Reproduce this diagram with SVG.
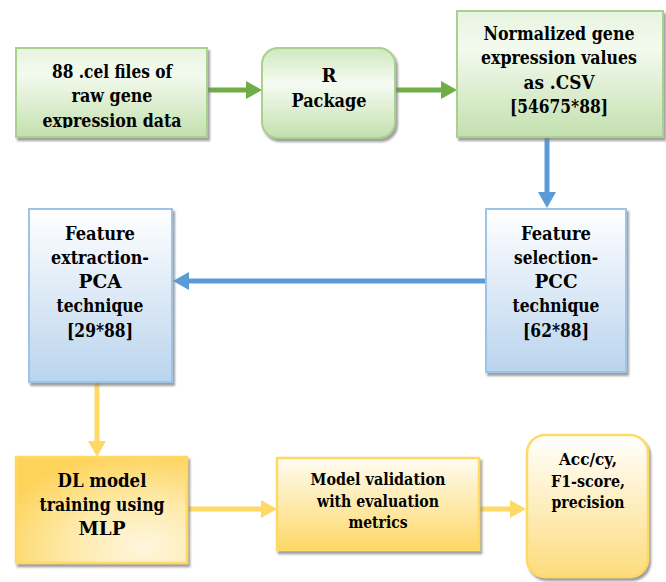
<svg xmlns="http://www.w3.org/2000/svg" width="666" height="582" viewBox="0 0 666 582">
<defs>
<style>
text{font-family:'DejaVu Serif','Liberation Serif',serif;font-weight:bold;fill:#000;text-anchor:middle}
.t21{font-size:19px}
.t19{font-size:17px}
.g{stroke:#a9d18e;stroke-width:2}
.b{stroke:#9dc3e6;stroke-width:2}
.y{stroke:#ffd966;stroke-width:2.5}
.ag{stroke:#70ad47;stroke-width:5;fill:none;marker-end:url(#mg)}
.ab{stroke:#5b9bd5;stroke-width:5;fill:none;marker-end:url(#mb)}
.ay{stroke:#ffd966;stroke-width:5;fill:none;marker-end:url(#my)}
</style>
<filter id="sh" x="-10%" y="-10%" width="125%" height="125%">
<feDropShadow dx="2" dy="3" stdDeviation="0.8" flood-color="#7f7f7f" flood-opacity="0.75"/>
</filter>
<linearGradient id="gG" x1="0" y1="0" x2="0" y2="1">
<stop offset="0" stop-color="#e7f4df"/><stop offset="0.3" stop-color="#f3faee"/><stop offset="1" stop-color="#c3e0ae"/>
</linearGradient>
<linearGradient id="gR" x1="0" y1="0" x2="0" y2="1">
<stop offset="0" stop-color="#cfe8bf"/><stop offset="0.4" stop-color="#f6fbf2"/><stop offset="1" stop-color="#c3e0ae"/>
</linearGradient>
<linearGradient id="gB" x1="0" y1="0" x2="0" y2="1">
<stop offset="0" stop-color="#ffffff"/><stop offset="1" stop-color="#bad4ee"/>
</linearGradient>
<radialGradient id="gY1" cx="0.75" cy="0.85" r="0.9">
<stop offset="0" stop-color="#fff6de"/><stop offset="0.5" stop-color="#fee9a8"/><stop offset="1" stop-color="#fdd35a"/>
</radialGradient>
<linearGradient id="gY2" x1="0" y1="0" x2="0" y2="1">
<stop offset="0" stop-color="#fffcf2"/><stop offset="1" stop-color="#fdd867"/>
</linearGradient>
<linearGradient id="gY3" x1="0" y1="0" x2="0" y2="1">
<stop offset="0" stop-color="#ffffff"/><stop offset="1" stop-color="#fddc7c"/>
</linearGradient>
<marker id="mg" markerUnits="userSpaceOnUse" markerWidth="16" markerHeight="18" viewBox="0 0 16 18" refX="1" refY="9" orient="auto"><path d="M0,0 L16,9 L0,18 z" fill="#70ad47"/></marker>
<marker id="mb" markerUnits="userSpaceOnUse" markerWidth="16" markerHeight="18" viewBox="0 0 16 18" refX="1" refY="9" orient="auto"><path d="M0,0 L16,9 L0,18 z" fill="#5b9bd5"/></marker>
<marker id="my" markerUnits="userSpaceOnUse" markerWidth="16" markerHeight="18" viewBox="0 0 16 18" refX="1" refY="9" orient="auto"><path d="M0,0 L16,9 L0,18 z" fill="#ffd966"/></marker>
<clipPath id="c1"><rect x="16" y="48" width="191" height="80"/></clipPath>
</defs>
<rect width="666" height="582" fill="#ffffff"/>

<g id="connectors">
<path class="ag" d="M207,90 H247"/>
<path class="ag" d="M395,90 H442"/>
<path class="ab" d="M547,137 V193"/>
<path class="ab" d="M486,281 H188"/>
<path class="ay" d="M97,382 V442"/>
<path class="ay" d="M187,509 H262"/>
<path class="ay" d="M479,509 H511"/>
</g>

<g id="raw-data">
<rect x="16" y="48" width="191" height="89" fill="url(#gG)" class="g" filter="url(#sh)"/>
<g clip-path="url(#c1)">
<text class="t21" x="112" y="78" textLength="120" lengthAdjust="spacingAndGlyphs">88 .cel files of</text>
<text class="t21" x="112" y="102" textLength="81" lengthAdjust="spacingAndGlyphs">raw gene</text>
<text class="t21" x="112" y="127" textLength="139" lengthAdjust="spacingAndGlyphs">expression data</text>
</g>
</g>

<g id="r-package">
<rect x="262" y="48" width="133" height="90" rx="16" fill="url(#gR)" class="g" filter="url(#sh)"/>
<text class="t21" x="329" y="82" textLength="15" lengthAdjust="spacingAndGlyphs">R</text>
<text class="t21" x="329" y="107" textLength="75" lengthAdjust="spacingAndGlyphs">Package</text>
</g>

<g id="normalized">
<rect x="457" y="11" width="206" height="126" fill="url(#gG)" class="g" filter="url(#sh)"/>
<text class="t21" x="559" y="40" textLength="151" lengthAdjust="spacingAndGlyphs">Normalized gene</text>
<text class="t21" x="559" y="64" textLength="156" lengthAdjust="spacingAndGlyphs">expression values</text>
<text class="t21" x="559" y="89" textLength="71" lengthAdjust="spacingAndGlyphs">as .CSV</text>
<text class="t21" x="559" y="113" textLength="98" lengthAdjust="spacingAndGlyphs">[54675*88]</text>
</g>

<g id="feature-selection">
<rect x="486" y="209" width="140" height="163" fill="url(#gB)" class="b" filter="url(#sh)"/>
<text class="t21" x="556" y="240" textLength="70" lengthAdjust="spacingAndGlyphs">Feature</text>
<text class="t21" x="556" y="264" textLength="84" lengthAdjust="spacingAndGlyphs">selection-</text>
<text class="t21" x="556" y="288" textLength="43" lengthAdjust="spacingAndGlyphs">PCC</text>
<text class="t21" x="556" y="312" textLength="87" lengthAdjust="spacingAndGlyphs">technique</text>
<text class="t21" x="556" y="337" textLength="66" lengthAdjust="spacingAndGlyphs">[62*88]</text>
</g>

<g id="feature-extraction">
<rect x="29" y="209" width="143" height="173" fill="url(#gB)" class="b" filter="url(#sh)"/>
<text class="t21" x="100" y="240" textLength="70" lengthAdjust="spacingAndGlyphs">Feature</text>
<text class="t21" x="100" y="264" textLength="98" lengthAdjust="spacingAndGlyphs">extraction-</text>
<text class="t21" x="100" y="288" textLength="43" lengthAdjust="spacingAndGlyphs">PCA</text>
<text class="t21" x="100" y="312" textLength="87" lengthAdjust="spacingAndGlyphs">technique</text>
<text class="t21" x="100" y="337" textLength="66" lengthAdjust="spacingAndGlyphs">[29*88]</text>
</g>

<g id="dl-model">
<rect x="16" y="457" width="171" height="106" fill="url(#gY1)" class="y" filter="url(#sh)"/>
<text class="t21" x="102" y="487" textLength="89" lengthAdjust="spacingAndGlyphs">DL model</text>
<text class="t21" x="102" y="511" textLength="125" lengthAdjust="spacingAndGlyphs">training using</text>
<text class="t21" x="102" y="535" textLength="47" lengthAdjust="spacingAndGlyphs">MLP</text>
</g>

<g id="model-validation">
<rect x="277" y="458" width="202" height="92" fill="url(#gY2)" class="y" filter="url(#sh)"/>
<text class="t19" x="378" y="485" textLength="135" lengthAdjust="spacingAndGlyphs">Model validation</text>
<text class="t19" x="378" y="507" textLength="122" lengthAdjust="spacingAndGlyphs">with evaluation</text>
<text class="t19" x="378" y="528" textLength="59" lengthAdjust="spacingAndGlyphs">metrics</text>
</g>

<g id="metrics">
<rect x="527" y="435" width="121" height="142" rx="18" fill="url(#gY3)" class="y" filter="url(#sh)"/>
<text class="t19" x="588" y="465" textLength="58" lengthAdjust="spacingAndGlyphs">Acc/cy,</text>
<text class="t19" x="588" y="487" textLength="74" lengthAdjust="spacingAndGlyphs">F1-score,</text>
<text class="t19" x="588" y="508" textLength="73" lengthAdjust="spacingAndGlyphs">precision</text>
</g>
</svg>
